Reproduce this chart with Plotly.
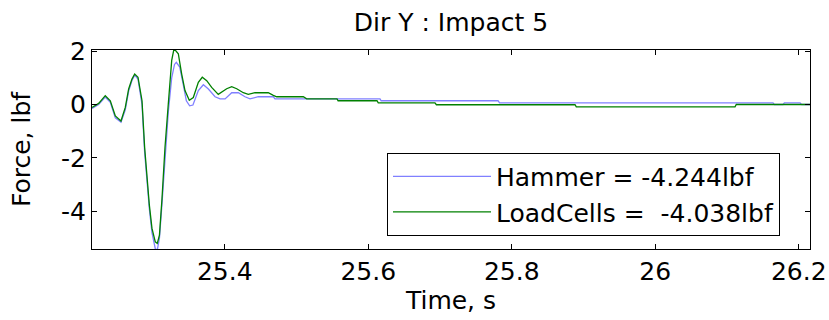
import plotly.graph_objects as go

# ---- data ----
hammer_t = [25.215, 25.2243, 25.2335, 25.2405, 25.2475, 25.2554, 25.2614, 25.2661, 25.2707,
            25.2745, 25.2791, 25.2847, 25.2884, 25.2917, 25.2949, 25.2986, 25.3032, 25.3060,
            25.3090, 25.3126, 25.3167, 25.3213, 25.3261, 25.3300, 25.3325, 25.3373, 25.3420,
            25.3465, 25.3511, 25.3557, 25.3632, 25.3702, 25.3772, 25.3865, 25.3935, 25.4005,
            25.4097, 25.4190, 25.4282, 25.4352, 25.4468, 25.4677, 25.4700, 25.6164, 25.6180,
            25.7809, 25.7830, 26.1641, 26.1660, 26.1781, 26.1800, 26.2018, 26.2040, 26.2157]
hammer_f = [-0.15, 0.0, 0.28, 0.08, -0.50, -0.66, -0.20, 0.50, 0.90,
            1.10, 0.95, 0.0, -1.80, -3.00, -3.90, -4.80, -5.40, -5.45,
            -5.00, -3.70, -1.90, -0.30, 1.00, 1.50, 1.58, 1.40, 0.77,
            0.14, -0.05, -0.02, 0.52, 0.74, 0.58, 0.29, 0.21, 0.21,
            0.44, 0.44, 0.29, 0.21, 0.29, 0.29, 0.21, 0.21, 0.14,
            0.14, 0.06, 0.06, 0.0, 0.0, 0.06, 0.06, 0.0, 0.0]

load_t = [25.215, 25.2243, 25.2335, 25.2405, 25.2475, 25.2554, 25.2614, 25.2661, 25.2707,
          25.2745, 25.2791, 25.2847, 25.2884, 25.2917, 25.2949, 25.2986, 25.3032, 25.3060,
          25.3090, 25.3126, 25.3167, 25.3213, 25.3261, 25.3293, 25.3353, 25.3400, 25.3446,
          25.3506, 25.3562, 25.3632, 25.3687, 25.3749, 25.3818, 25.3910, 25.4027, 25.4097,
          25.4167, 25.4259, 25.4328, 25.4422, 25.4607, 25.4677, 25.4724, 25.5095, 25.5142,
          25.5565, 25.5580, 25.6122, 25.6140, 25.6930, 25.6950, 25.8882, 25.8900, 26.1112,
          26.1130, 26.2157]
load_f = [-0.11, 0.04, 0.33, 0.14, -0.43, -0.62, -0.11, 0.58, 0.95,
          1.14, 1.02, 0.14, -1.62, -2.88, -3.76, -4.64, -5.14, -5.20,
          -4.89, -3.51, -1.62, 0.01, 1.65, 2.09, 1.90, 1.14, 0.52,
          0.16, 0.26, 0.83, 1.02, 0.89, 0.64, 0.38, 0.59, 0.67,
          0.59, 0.44, 0.38, 0.44, 0.44, 0.34, 0.29, 0.29, 0.21,
          0.21, 0.14, 0.14, 0.06, 0.06, -0.01, -0.01, -0.09, -0.09,
          0.0, 0.0]

series_names = ["Hammer = -4.244lbf", "LoadCells =  -4.038lbf"]
x_tickvals = [25.4, 25.6, 25.8, 26.0, 26.2]
x_ticktext = ["25.4", "25.6", "25.8", "26", "26.2"]
y_tickvals = [2, 0, -2, -4]
y_ticktext = ["2", "0", "-2", "-4"]

FONT = "DejaVu Sans"
FS = 25

fig = go.Figure()
fig.add_trace(go.Scatter(x=hammer_t, y=hammer_f, mode="lines", name=series_names[0],
                         line=dict(color="#8080FF", width=1.3)))
fig.add_trace(go.Scatter(x=load_t, y=load_f, mode="lines", name=series_names[1],
                         line=dict(color="#008000", width=1.3)))

axis_common = dict(showline=True, linecolor="black", linewidth=1, mirror="allticks",
                   ticks="inside", ticklen=5, tickcolor="black", showgrid=False,
                   zeroline=False, automargin=False,
                   tickfont=dict(family=FONT, size=FS, color="black"))

fig.update_layout(
    width=829, height=320,
    margin=dict(l=92, r=19, t=50, b=71),
    paper_bgcolor="white", plot_bgcolor="white",
    font=dict(family=FONT, size=FS, color="black"),
    title=dict(text="Dir Y : Impact 5", x=0.5, xref="paper", xanchor="center",
               y=1 - 22 / 320, yref="container", yanchor="middle", automargin=False,
               font=dict(family=FONT, size=FS, color="black")),
    xaxis=dict(range=[25.215, 26.2157], tickvals=x_tickvals, ticktext=x_ticktext,
               title=dict(text="Time, s", font=dict(family=FONT, size=FS), standoff=2),
               **axis_common),
    yaxis=dict(range=[-5.41, 2.04], tickvals=y_tickvals, ticktext=y_ticktext,
               title=dict(text="Force, lbf", font=dict(family=FONT, size=FS), standoff=23),
               **axis_common),
    legend=dict(x=(387 - 92) / 718, y=(249 - 152.7) / 199, xanchor="left", yanchor="top",
                bgcolor="white", bordercolor="black", borderwidth=1,
                font=dict(family=FONT, size=FS, color="black"), itemwidth=98,
                entrywidth=290, entrywidthmode="pixels",
                tracegroupgap=0),
    showlegend=True,
)

fig.write_html("out.html", config={"displayModeBar": False},
               post_script="document.body.style.margin='0';")
